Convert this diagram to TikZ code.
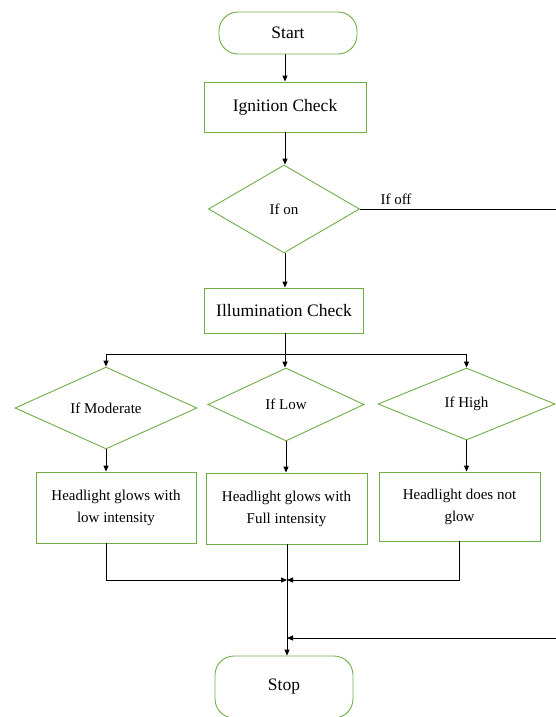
\documentclass[tikz,border=0pt]{standalone}
\usepackage{fontspec}
\setmainfont{Liberation Serif}
\usetikzlibrary{arrows.meta, shapes.geometric}
\definecolor{flowgreen}{HTML}{70AD47}

\begin{document}
\begin{tikzpicture}[
    x=1pt, y=-1pt,
    bigtext/.style={font=\fontsize{17.5}{21}\selectfont},
    smalltext/.style={font=\fontsize{15}{22}\selectfont},
    terminal/.style={draw=flowgreen, line width=0.9pt, rounded corners=19pt, minimum width=138pt, bigtext},
    process/.style={draw=flowgreen, line width=0.9pt, align=center, bigtext},
    result/.style={draw=flowgreen, line width=0.9pt, align=center, smalltext},
    decision/.style={draw=flowgreen, line width=0.9pt, diamond, inner sep=0pt, smalltext},
    arrow/.style={-{Triangle[length=6pt, width=5pt]}, line width=0.9pt},
    line/.style={line width=0.9pt}
]
  \useasboundingbox (0,0) rectangle (556,717);

  \node[terminal, minimum height=42pt] (start) at (288,33) {Start};
  \node[process, minimum width=162pt, minimum height=50pt] (ignition) at (285,107) {Ignition Check};
  \node[decision, minimum width=151pt, minimum height=88pt] (ifon) at (284,209) {If on};
  \node[smalltext] (offlabel) at (396,199) {If off};
  \node[process, minimum width=159pt, minimum height=45pt] (illum) at (284,310.5) {Illumination Check};

  \node[decision, minimum width=182pt, minimum height=72pt] (ifmod) at (106,408) {If Moderate};
  \node[decision, minimum width=156pt, minimum height=73pt] (iflow) at (286,404.5) {If Low};
  \node[decision, minimum width=177pt, minimum height=72pt] (ifhigh) at (466.5,404) {If High};

  \node[result, minimum width=160pt, minimum height=71pt] (lowglow) at (116,507.5) {Headlight glows with\\low intensity};
  \node[result, minimum width=161pt, minimum height=71pt] (fullglow) at (286.5,508.5) {Headlight glows with\\Full intensity};
  \node[result, minimum width=161pt, minimum height=69pt] (noglow) at (459.5,506.5) {Headlight does not\\glow};

  \node[terminal, minimum height=62pt] (stop) at (284,687) {Stop};

  \coordinate (split) at (285,354);
  \coordinate (merge) at (287,580);
  \coordinate (offcorner) at (558,209);
  \coordinate (return) at (287,638);

  \draw[arrow] (start.south -| ignition) -- (ignition.north);
  \draw[arrow] (ignition.south) -- (ignition.south |- ifon.north);
  \draw[arrow] (ifon.south -| ignition) -- (ignition |- illum.north);
  \draw[line] (illum.south -| split) -- (split);
  \draw[line] (split -| ifmod) -- (split -| ifhigh);
  \draw[arrow] (split -| ifmod) -- (ifmod.north);
  \draw[arrow] (split) -- (split |- iflow.north);
  \draw[arrow] (split -| ifhigh) -- (ifhigh.north);
  \draw[arrow] (ifmod.south) -- (ifmod.south |- lowglow.north);
  \draw[arrow] (iflow.south) -- (iflow.south |- fullglow.north);
  \draw[arrow] (ifhigh.south) -- (ifhigh.south |- noglow.north);
  \draw[arrow] (ifmod.south |- lowglow.south) |- (merge);
  \draw[arrow] (noglow.south) |- (merge);
  \draw[arrow] (fullglow.south -| merge) -- (merge |- stop.north);
  \draw[line] (ifon.east) -- (ifon.east -| offcorner);
  \draw[arrow] (offcorner) |- (return);
\end{tikzpicture}
\end{document}
